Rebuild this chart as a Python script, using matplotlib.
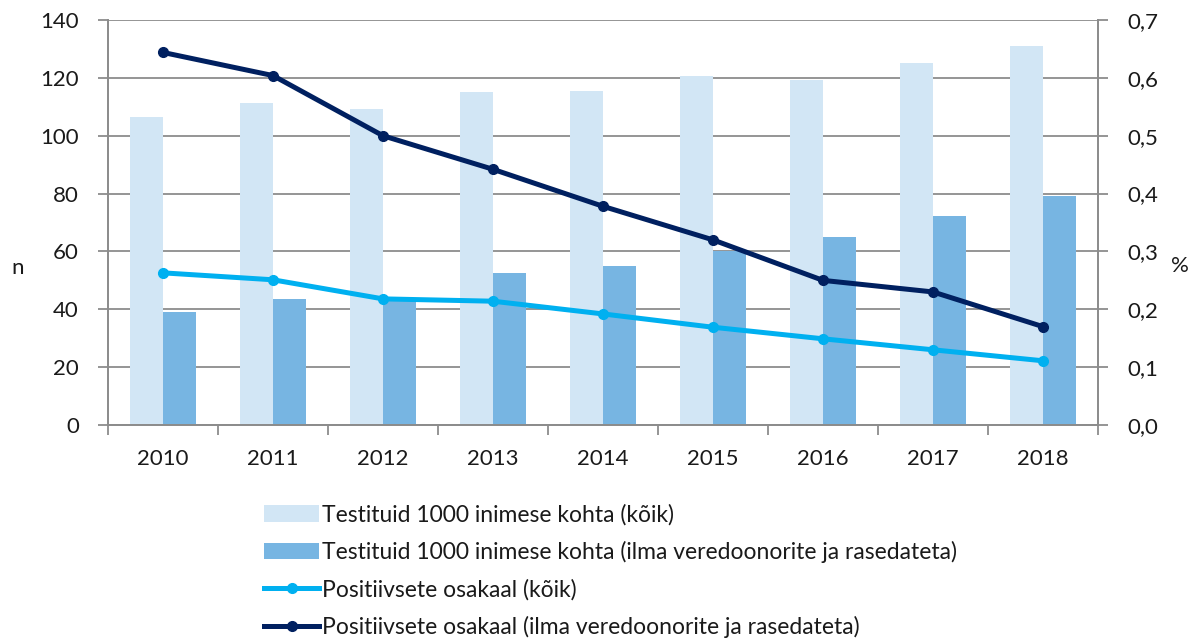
import numpy as np
import matplotlib.pyplot as plt
from matplotlib.lines import Line2D
from matplotlib.patches import Patch

plt.rcParams["font.family"] = ["Lato", "DejaVu Sans"]
plt.rcParams["font.size"] = 16

# ----- data -----
years = ["2010", "2011", "2012", "2013", "2014", "2015", "2016", "2017", "2018"]
tested_all = [106.6, 111.2, 109.3, 115.1, 115.6, 120.8, 119.4, 125.2, 131.1]
tested_excl = [39.1, 43.4, 42.8, 52.5, 55.0, 60.2, 65.1, 72.1, 79.2]
pos_all = [0.263, 0.251, 0.218, 0.214, 0.192, 0.169, 0.149, 0.130, 0.111]
pos_excl = [0.644, 0.604, 0.500, 0.442, 0.378, 0.320, 0.250, 0.230, 0.170]

labels = [
    "Testituid 1000 inimese kohta (kõik)",
    "Testituid 1000 inimese kohta (ilma veredoonorite ja rasedateta)",
    "Positiivsete osakaal (kõik)",
    "Positiivsete osakaal (ilma veredoonorite ja rasedateta)",
]

# ----- style -----
C_BAR_LIGHT = "#D2E6F5"
C_BAR_DARK = "#77B5E2"
C_LINE_LIGHT = "#00B0F0"
C_LINE_DARK = "#002060"
GRID = "#8C8C8C"
TXT = "#1A1A1A"

fig = plt.figure(figsize=(11.97, 6.42), dpi=100)
ax = fig.add_axes([0.0902, 0.338, 0.8271, 0.6308])
ax2 = ax.twinx()

x = np.arange(len(years))
w = 0.30
ax.bar(x - w / 2, tested_all, w, color=C_BAR_LIGHT, zorder=2)
ax.bar(x + w / 2, tested_excl, w, color=C_BAR_DARK, zorder=2)

ax2.plot(x, pos_all, color=C_LINE_LIGHT, lw=3.6, marker="o", ms=7,
         solid_capstyle="round", zorder=3)
ax2.plot(x, pos_excl, color=C_LINE_DARK, lw=3.6, marker="o", ms=7,
         solid_capstyle="round", zorder=3)

# ----- axes -----
ax.set_xlim(-0.5, len(years) - 0.5)
ax.set_ylim(0, 140)
ax.set_yticks(np.arange(0, 141, 20))
ax2.set_ylim(0, 0.7)
ax2.set_yticks(np.arange(0, 0.71, 0.1))
ax2.set_yticklabels([f"{v:.1f}".replace(".", ",") for v in np.arange(0, 0.71, 0.1)])

ax.set_xticks(x)
ax.set_xticklabels(years)
ax.set_xticks(np.arange(-0.5, len(years), 1), minor=True)
ax.tick_params(axis="x", which="major", length=0, pad=17, colors=TXT)
ax.tick_params(axis="x", which="minor", length=7, width=1.3, color=GRID, direction="out")
ax.tick_params(axis="y", length=7, width=1.3, color=GRID, labelcolor=TXT, pad=14)
ax2.tick_params(axis="y", length=7, width=1.3, color=GRID, labelcolor=TXT, pad=14)

ax.yaxis.grid(True, color=GRID, lw=1.3, zorder=0)
ax.set_axisbelow(True)
for a in (ax, ax2):
    a.spines["top"].set_visible(False)
    for s in ("left", "right", "bottom"):
        a.spines[s].set_color(GRID)
        a.spines[s].set_linewidth(1.3)
ax.set_zorder(ax2.get_zorder() - 1)
ax.patch.set_visible(False)

fig.text(18 / 1197, 1 - 268 / 642, "n", ha="center", va="center", fontsize=16, color=TXT)
fig.text(1180 / 1197, 1 - 266 / 642, "%", ha="center", va="center", fontsize=16, color=TXT)

# ----- legend -----
handles = [
    Patch(facecolor=C_BAR_LIGHT, edgecolor="none"),
    Patch(facecolor=C_BAR_DARK, edgecolor="none"),
    Line2D([], [], color=C_LINE_LIGHT, lw=3.6, marker="o", ms=7),
    Line2D([], [], color=C_LINE_DARK, lw=3.6, marker="o", ms=7),
]
fig.legend(handles, labels, loc="upper left", bbox_to_anchor=(264 / 1197, 1 - 504 / 642),
           frameon=False, handlelength=2.4, handleheight=0.7, handletextpad=0.15,
           labelspacing=0.68, borderpad=0, borderaxespad=0, fontsize=16.5,
           labelcolor=TXT)

fig.savefig("out.png", dpi=100)
